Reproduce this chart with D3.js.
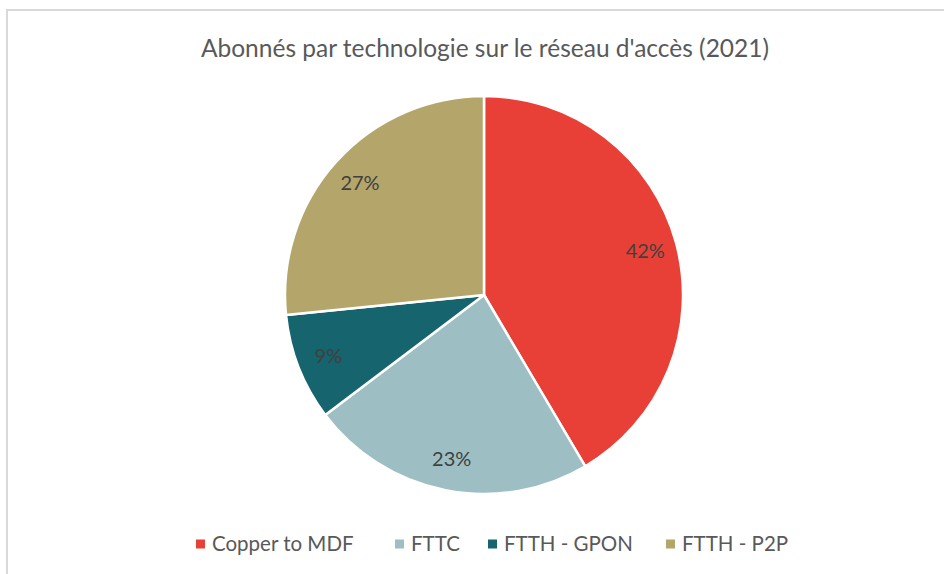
<!DOCTYPE html>
<html>
    <head>
        <style>
            body { margin: 0; background: #fff; }
            text { font-family: Lato, "Open Sans", sans-serif; }
        </style>
    </head>
    <body>
        <svg id="chart" width="944" height="574"></svg>

        <script src="https://cdn.jsdelivr.net/npm/d3@7"></script>
        <script>
            // data
            const categories = ["Copper to MDF", "FTTC", "FTTH - GPON", "FTTH - P2P"];
            const shares = [41.5, 23.2, 8.7, 26.6];
            const colors = ["#E84036", "#9DBFC3", "#16646D", "#B4A66B"];
            const title = "Abonnés par technologie sur le réseau d'accès (2021)";

            const width = 944, height = 574;
            const cx = 484, cy = 295, radius = 199;

            const svg = d3.select("#chart");

            // chart frame
            svg.append("rect")
                .attr("x", 7).attr("y", 10)
                .attr("width", width).attr("height", height)
                .attr("fill", "none")
                .attr("stroke", "#d9d9d9")
                .attr("stroke-width", 2);

            svg.append("text")
                .attr("x", 485).attr("y", 57)
                .attr("text-anchor", "middle")
                .attr("font-size", 24.5)
                .attr("fill", "#595959")
                .text(title);

            const color = d3.scaleOrdinal().domain(categories).range(colors);
            const pie = d3.pie().sort(null).value(d => d.v);
            const arcs = pie(categories.map((c, i) => ({c, v: shares[i]})));
            const arc = d3.arc().innerRadius(0).outerRadius(radius);
            const labelArc = d3.arc().innerRadius(radius * 0.84).outerRadius(radius * 0.84);

            const g = svg.append("g").attr("transform", `translate(${cx},${cy})`);

            g.selectAll("path")
                .data(arcs)
                .join("path")
                    .attr("d", arc)
                    .attr("fill", d => color(d.data.c))
                    .attr("stroke", "#fff")
                    .attr("stroke-width", 2.5)
                    .attr("stroke-linejoin", "round");

            g.selectAll("text")
                .data(arcs)
                .join("text")
                    .attr("transform", d => `translate(${labelArc.centroid(d)})`)
                    .attr("text-anchor", "middle")
                    .attr("dy", "0.35em")
                    .attr("font-size", 20)
                    .attr("fill", "#404040")
                    .text(d => Math.round(d.data.v) + "%");

            // legend
            const legendX = [196, 395, 488, 666];
            const legend = svg.append("g")
                .selectAll("g")
                .data(categories)
                .join("g")
                    .attr("transform", (d, i) => `translate(${legendX[i]},544)`);
            legend.append("rect")
                .attr("x", 0).attr("y", -4.5)
                .attr("width", 9).attr("height", 9)
                .attr("fill", d => color(d));
            legend.append("text")
                .attr("x", 16).attr("dy", "0.36em")
                .attr("font-size", 20.5)
                .attr("fill", "#595959")
                .text(d => d);
        </script>
    </body>
</html>
